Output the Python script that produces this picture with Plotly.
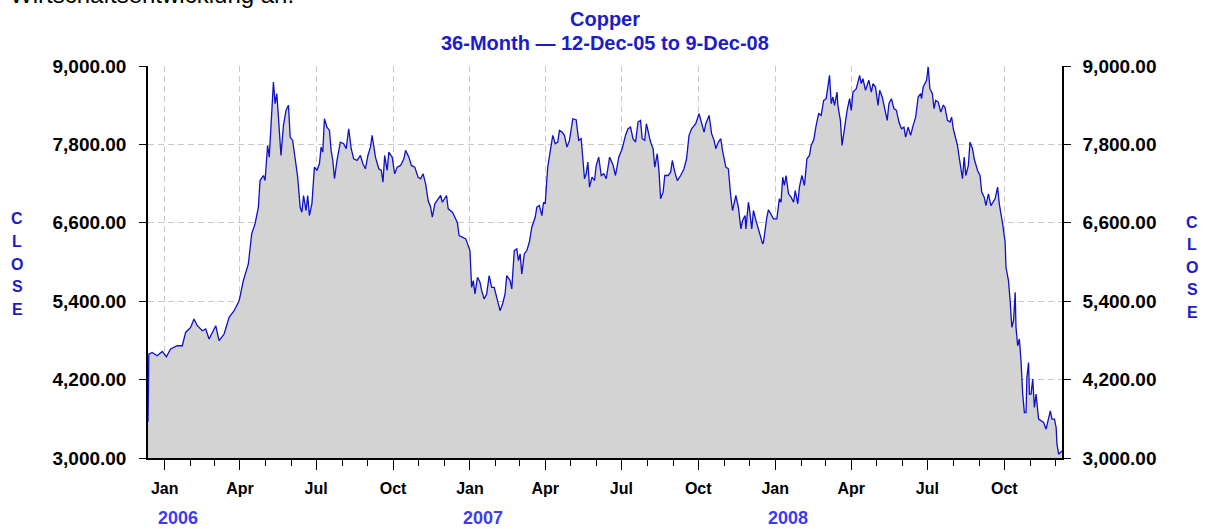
import plotly.graph_objects as go

# ---------------- data ----------------
dates_2006 = [
    "2005-12-12", "2005-12-13", "2005-12-17", "2005-12-23", "2005-12-29",
    "2006-01-03", "2006-01-08", "2006-01-16", "2006-01-22", "2006-01-26",
    "2006-02-01", "2006-02-05", "2006-02-09", "2006-02-15", "2006-02-19",
    "2006-02-23", "2006-02-27", "2006-03-03", "2006-03-07", "2006-03-13",
    "2006-03-19", "2006-03-25", "2006-03-31", "2006-04-05", "2006-04-11",
    "2006-04-15", "2006-04-19", "2006-04-23", "2006-04-25", "2006-04-29",
    "2006-05-01", "2006-05-04", "2006-05-06", "2006-05-09", "2006-05-11",
    "2006-05-13", "2006-05-15", "2006-05-17", "2006-05-20", "2006-05-23",
    "2006-05-26", "2006-05-29", "2006-05-31", "2006-06-03", "2006-06-06",
    "2006-06-09", "2006-06-12", "2006-06-14", "2006-06-16", "2006-06-19",
    "2006-06-21", "2006-06-23", "2006-06-26", "2006-06-29", "2006-07-02",
    "2006-07-05", "2006-07-07", "2006-07-09", "2006-07-11", "2006-07-14",
    "2006-07-17", "2006-07-19", "2006-07-21", "2006-07-23", "2006-07-26",
    "2006-07-30", "2006-08-03", "2006-08-06", "2006-08-09", "2006-08-12",
    "2006-08-15", "2006-08-19", "2006-08-23", "2006-08-26", "2006-08-29",
    "2006-09-01", "2006-09-04", "2006-09-06", "2006-09-10", "2006-09-14",
    "2006-09-17", "2006-09-19", "2006-09-21", "2006-09-24", "2006-09-26",
    "2006-09-30", "2006-10-03", "2006-10-06", "2006-10-10", "2006-10-14",
    "2006-10-16", "2006-10-20", "2006-10-23", "2006-10-27", "2006-10-31",
    "2006-11-03", "2006-11-06", "2006-11-09", "2006-11-12", "2006-11-15",
    "2006-11-17", "2006-11-20", "2006-11-24", "2006-11-27", "2006-11-29",
    "2006-12-04", "2006-12-06", "2006-12-11", "2006-12-14", "2006-12-17",
    "2006-12-19", "2006-12-24", "2006-12-27",
]
close_2006 = [
    3550, 4590, 4616, 4565, 4631,
    4550, 4668, 4718, 4718, 4922,
    4999, 5128, 5025, 4948, 4974,
    4821, 4922, 5025, 4795, 4897,
    5153, 5255, 5408, 5715, 5970,
    6431, 6584, 6838, 7247, 7324,
    7247, 7784, 7605, 8321, 8755,
    8424, 8577, 8218, 7631, 8091,
    8321, 8398, 7912, 7861, 7580,
    7298, 6838, 6762, 7018, 6788,
    7018, 6711, 6891, 7452, 7401,
    7503, 7758, 7682, 8193, 8065,
    8014, 7708, 7554, 7274, 7554,
    7835, 7810, 7734, 8040, 7734,
    7580, 7554, 7631, 7503, 7427,
    7631, 7758, 7938, 7605, 7427,
    7401, 7222, 7631, 7401, 7682,
    7605, 7350, 7452, 7478, 7580,
    7708, 7605, 7478, 7452, 7298,
    7274, 7350, 7197, 6941, 6838,
    6685, 6891, 6967, 7018, 6915,
    7018, 6814, 6762, 6685, 6600,
    6405, 6379, 6354,
]

dates_2007 = [
    "2007-01-01", "2007-01-03", "2007-01-05", "2007-01-07", "2007-01-10",
    "2007-01-13", "2007-01-15", "2007-01-18", "2007-01-21", "2007-01-24",
    "2007-01-27", "2007-01-30", "2007-02-02", "2007-02-06", "2007-02-09",
    "2007-02-12", "2007-02-14", "2007-02-18", "2007-02-20", "2007-02-23",
    "2007-02-26", "2007-02-28", "2007-03-02", "2007-03-04", "2007-03-07",
    "2007-03-10", "2007-03-13", "2007-03-16", "2007-03-20", "2007-03-22",
    "2007-03-25", "2007-03-28", "2007-03-30", "2007-04-01", "2007-04-04",
    "2007-04-07", "2007-04-10", "2007-04-13", "2007-04-16", "2007-04-18",
    "2007-04-21", "2007-04-24", "2007-04-27", "2007-04-30", "2007-05-04",
    "2007-05-08", "2007-05-11", "2007-05-14", "2007-05-16", "2007-05-18",
    "2007-05-20", "2007-05-22", "2007-05-24", "2007-05-27", "2007-05-30",
    "2007-06-01", "2007-06-04", "2007-06-07", "2007-06-10", "2007-06-13",
    "2007-06-17", "2007-06-21", "2007-06-24", "2007-06-28", "2007-07-02",
    "2007-07-06", "2007-07-09", "2007-07-12", "2007-07-15", "2007-07-18",
    "2007-07-21", "2007-07-24", "2007-07-26", "2007-07-29", "2007-07-31",
    "2007-08-02", "2007-08-05", "2007-08-08", "2007-08-10", "2007-08-13",
    "2007-08-15", "2007-08-17", "2007-08-20", "2007-08-22", "2007-08-26",
    "2007-08-29", "2007-08-31", "2007-09-03", "2007-09-06", "2007-09-10",
    "2007-09-14", "2007-09-17", "2007-09-20", "2007-09-23", "2007-09-26",
    "2007-09-28", "2007-10-02", "2007-10-05", "2007-10-08", "2007-10-10",
    "2007-10-14", "2007-10-17", "2007-10-20", "2007-10-22", "2007-10-25",
    "2007-10-28", "2007-10-30", "2007-11-03", "2007-11-06", "2007-11-09",
    "2007-11-11", "2007-11-15", "2007-11-18", "2007-11-21", "2007-11-23",
    "2007-11-26", "2007-11-27", "2007-11-30", "2007-12-01", "2007-12-04",
    "2007-12-06", "2007-12-09", "2007-12-12", "2007-12-14", "2007-12-17",
    "2007-12-18", "2007-12-20", "2007-12-22", "2007-12-24", "2007-12-30",
]
close_2007 = [
    6175, 5612, 5715, 5511, 5766,
    5689, 5562, 5434, 5511, 5792,
    5612, 5612, 5459, 5255, 5357,
    5511, 5792, 5715, 5587, 6175,
    6201, 6021, 6124, 5817, 6124,
    6175, 6302, 6532, 6685, 6838,
    6864, 6711, 6915, 6891, 7452,
    7734, 7938, 7810, 7835, 8014,
    7989, 7938, 7758, 7861, 8193,
    8178, 7861, 7887, 7605, 7274,
    7350, 7529, 7145, 7298, 7247,
    7478, 7605, 7324, 7350, 7274,
    7605, 7490, 7324, 7605, 7734,
    7938, 8040, 8065, 7887, 7835,
    8142, 8168, 7887, 7861, 8117,
    7989, 7835, 7734, 7452, 7657,
    7401, 6967, 7069, 7324, 7324,
    7375, 7554, 7375, 7247, 7324,
    7427, 7580, 7938, 8040, 8091,
    8117, 8270, 8142, 7989, 8117,
    8244, 7964, 7861, 7734, 7835,
    7887, 7708, 7452, 7427, 6992,
    6788, 7018, 6838, 6507, 6635,
    6711, 6507, 6915, 6838, 6507,
    6788, 6635, 6507, 6431, 6277,
    6300, 6532, 6685, 6800, 6661,
]

dates_2008 = [
    "2008-01-03", "2008-01-06", "2008-01-08", "2008-01-10", "2008-01-12",
    "2008-01-14", "2008-01-17", "2008-01-20", "2008-01-23", "2008-01-25",
    "2008-01-28", "2008-01-30", "2008-02-02", "2008-02-05", "2008-02-08",
    "2008-02-11", "2008-02-13", "2008-02-16", "2008-02-19", "2008-02-22",
    "2008-02-25", "2008-02-28", "2008-03-02", "2008-03-04", "2008-03-06",
    "2008-03-08", "2008-03-10", "2008-03-12", "2008-03-15", "2008-03-16",
    "2008-03-19", "2008-03-21", "2008-03-24", "2008-03-27", "2008-03-30",
    "2008-04-01", "2008-04-03", "2008-04-07", "2008-04-11", "2008-04-13",
    "2008-04-15", "2008-04-18", "2008-04-22", "2008-04-25", "2008-04-27",
    "2008-04-30", "2008-05-03", "2008-05-05", "2008-05-08", "2008-05-11",
    "2008-05-14", "2008-05-16", "2008-05-19", "2008-05-22", "2008-05-25",
    "2008-05-28", "2008-05-31", "2008-06-03", "2008-06-05", "2008-06-08",
    "2008-06-11", "2008-06-14", "2008-06-17", "2008-06-20", "2008-06-23",
    "2008-06-24", "2008-06-26", "2008-06-30", "2008-07-02", "2008-07-04",
    "2008-07-07", "2008-07-09", "2008-07-11", "2008-07-14", "2008-07-17",
    "2008-07-20", "2008-07-22", "2008-07-25", "2008-07-28", "2008-07-30",
    "2008-08-01", "2008-08-04", "2008-08-06", "2008-08-08", "2008-08-10",
    "2008-08-12", "2008-08-14", "2008-08-16", "2008-08-19", "2008-08-21",
    "2008-08-24", "2008-08-26", "2008-08-30", "2008-09-02", "2008-09-04",
    "2008-09-07", "2008-09-09", "2008-09-12", "2008-09-15", "2008-09-17",
    "2008-09-20", "2008-09-23", "2008-09-25", "2008-09-29", "2008-10-02",
    "2008-10-03", "2008-10-06", "2008-10-08", "2008-10-10", "2008-10-12",
    "2008-10-14", "2008-10-15", "2008-10-17", "2008-10-19", "2008-10-21",
    "2008-10-23", "2008-10-25", "2008-10-27", "2008-10-28", "2008-10-30",
    "2008-10-31", "2008-11-02", "2008-11-04", "2008-11-06", "2008-11-08",
    "2008-11-11", "2008-11-14", "2008-11-17", "2008-11-20", "2008-11-23",
    "2008-11-25", "2008-11-27", "2008-11-30", "2008-12-02", "2008-12-03",
    "2008-12-05", "2008-12-09",
]
close_2008 = [
    6661, 6967, 6915, 7298, 7171,
    7324, 7043, 6992, 6915, 7094,
    6891, 7145, 7324, 7171, 7580,
    7631, 7784, 7861, 8091, 8270,
    8244, 8474, 8500, 8653, 8857,
    8424, 8525, 8398, 8601, 8398,
    8168, 7784, 8065, 8321, 8500,
    8321, 8601, 8653, 8857, 8730,
    8807, 8628, 8781, 8601, 8730,
    8678, 8398, 8628, 8525, 8347,
    8168, 8424, 8500, 8347, 8321,
    8142, 8040, 8065, 7912, 8065,
    7938, 8091, 8218, 8525, 8577,
    8500, 8678, 8781, 8985, 8653,
    8577, 8347, 8474, 8448, 8295,
    8398, 8372, 8168, 8142, 8218,
    8040, 7887, 7784, 7605, 7452,
    7274, 7605, 7324, 7478, 7835,
    7734, 7580, 7401, 7324, 7069,
    6992, 6864, 7043, 6864, 6915,
    6967, 7145, 6891, 6584, 6302,
    5919, 5715, 5408, 4999, 5102,
    5536, 4999, 4718, 4821, 4488,
    3978, 3696, 3696, 4232, 4462,
    3978, 3978, 4208, 3773, 3978,
    3595, 3569, 3543, 3441, 3620,
    3722, 3595, 3595, 3466, 3211,
    3058, 3109,
]

y_ticks = [3000, 4200, 5400, 6600, 7800, 9000]
year_ticks = ["2006-01-01", "2007-01-01", "2008-01-01"]
year_labels = ["2006", "2007", "2008"]
title_main = "Copper"
title_sub = "36-Month \u2014 12-Dec-05 to 9-Dec-08"
axis_title = "CLOSE"
page_text = "Wirtschaftsentwicklung an."
x_start, x_end = "2005-12-12", "2008-12-09"
y_min, y_max = 3000, 9000

dates = dates_2006 + dates_2007 + dates_2008
close = close_2006 + close_2007 + close_2008

# ---------------- styling / layout ----------------
W, H = 1208, 529
PL, PR, PT, PB = 148, 1062, 66, 458   # plot area in pixels
FONT = "Arial, 'Liberation Sans', sans-serif"
TITLE_BLUE = "#1c1cc8"
YEAR_BLUE = "#3c3cf0"
LINE_BLUE = "#1010c8"
GRID = "#c8c8c8"


def px_x(px):
    return (px - PL) / (PR - PL)


def px_y(py):
    return (PB - py) / (PB - PT)


fig = go.Figure()
fig.add_trace(go.Scatter(
    x=dates, y=close, mode="lines",
    line=dict(color=LINE_BLUE, width=1.3),
    fill="tozeroy", fillcolor="#d3d3d3",
    showlegend=False, hoverinfo="x+y",
))
# companion trace so that the right-hand axis is drawn
fig.add_trace(go.Scatter(
    x=dates, y=close, mode="none", yaxis="y2",
    showlegend=False, hoverinfo="skip",
))

tick_font = dict(family=FONT, size=19, color="black", weight="bold")

fig.update_layout(
    width=W, height=H,
    margin=dict(l=PL, r=W - PR, t=PT, b=H - PB, pad=0, autoexpand=False),
    paper_bgcolor="white", plot_bgcolor="white",
    font=dict(family=FONT),
    xaxis=dict(
        type="date", range=[x_start, x_end],
        tick0="2006-01-01", dtick="M3", tickformat="%b",
        ticks="outside", ticklen=10, tickwidth=1, tickcolor="black",
        minor=dict(dtick="M1", tick0="2006-01-01", ticks="outside",
                   ticklen=6, tickwidth=1, tickcolor="black", showgrid=False),
        showline=True, linecolor="black", linewidth=1.5,
        showgrid=True, gridcolor=GRID, gridwidth=1, griddash="6px,4px",
        zeroline=False, automargin=False,
        tickfont=dict(family=FONT, size=16, color="black", weight="bold"),
        ticklabelstandoff=5,
    ),
    yaxis=dict(
        range=[y_min, y_max], tickvals=y_ticks, tickformat=",.2f",
        ticks="outside", ticklen=7, tickwidth=1, tickcolor="black",
        showline=True, linecolor="black", linewidth=1.5,
        showgrid=True, gridcolor=GRID, gridwidth=1, griddash="6px,4px",
        zeroline=False, tickfont=tick_font, ticklabelstandoff=9,
        automargin=False,
    ),
    yaxis2=dict(
        range=[y_min, y_max], tickvals=y_ticks, tickformat=",.2f",
        overlaying="y", side="right",
        ticks="outside", ticklen=7, tickwidth=1, tickcolor="black",
        showline=True, linecolor="black", linewidth=1.5,
        showgrid=False, zeroline=False, tickfont=tick_font,
        ticklabelstandoff=8, automargin=False,
    ),
)

annotations = [
    dict(text=title_main, x=0.5, y=px_y(19), xref="paper", yref="paper",
         xanchor="center", yanchor="middle", showarrow=False,
         font=dict(family=FONT, size=20, color=TITLE_BLUE, weight="bold")),
    dict(text=title_sub, x=0.5, y=px_y(43), xref="paper", yref="paper",
         xanchor="center", yanchor="middle", showarrow=False,
         font=dict(family=FONT, size=20, color=TITLE_BLUE, weight="bold")),
    dict(text=page_text, x=px_x(8), y=px_y(10), xref="paper", yref="paper",
         xanchor="left", yanchor="bottom", showarrow=False,
         font=dict(family=FONT, size=24, color="black")),
]
for d, lab in zip(year_ticks, year_labels):
    annotations.append(dict(
        text=lab, x=d, y=px_y(518), xref="x", yref="paper",
        xanchor="left", yanchor="middle", xshift=-9, showarrow=False,
        font=dict(family=FONT, size=18, color=YEAR_BLUE, weight="bold")))

for i, ch in enumerate(axis_title):
    annotations.append(dict(
        text=ch, x=px_x(17), y=px_y(219 + 22.6 * i), xref="paper", yref="paper",
        xanchor="center", yanchor="middle", showarrow=False,
        font=dict(family=FONT, size=16, color=TITLE_BLUE, weight="bold")))
    annotations.append(dict(
        text=ch, x=px_x(1192), y=px_y(222 + 22.6 * i), xref="paper", yref="paper",
        xanchor="center", yanchor="middle", showarrow=False,
        font=dict(family=FONT, size=16, color=TITLE_BLUE, weight="bold")))

fig.update_layout(annotations=annotations)

fig.write_html(
    "out.html",
    config={"displayModeBar": False},
    post_script="document.body.style.margin='0';document.body.style.padding='0';",
)
